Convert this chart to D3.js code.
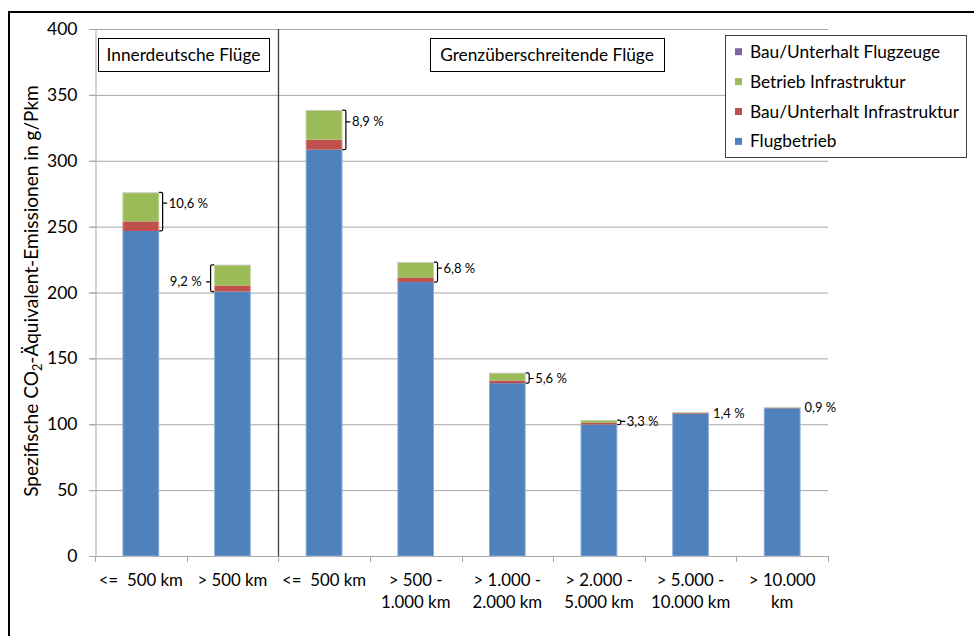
<!DOCTYPE html>
<html>
<head>
<meta charset="utf-8">
<script src="https://cdn.jsdelivr.net/npm/d3@7"></script>
<style>
  html, body { margin: 0; padding: 0; background: #fff; }
  svg { display: block; font-family: Lato, "Open Sans", sans-serif; }
</style>
</head>
<body>
<svg id="chart" width="974" height="636"></svg>
<script>
// ---- data ----
const categories = [
  ["<=  500 km"],
  ["> 500 km"],
  ["<=  500 km"],
  ["> 500 -", "1.000 km"],
  ["> 1.000 -", "2.000 km"],
  ["> 2.000 -", "5.000 km"],
  ["> 5.000 -", "10.000 km"],
  ["> 10.000", "km"]
];
const flugbetrieb        = [246.7, 200.7, 308.4, 207.9, 131.2, 99.8, 107.8, 112.1];
const bauInfrastruktur   = [7.3, 4.6, 7.6, 3.5, 2.0, 1.2, 0.6, 0.4];
const betriebInfra       = [21.8, 15.5, 22.3, 11.5, 5.6, 2.0, 0.7, 0.4];
const bauFlugzeuge       = [0.2, 0.2, 0.2, 0.2, 0.2, 0.2, 0.2, 0.2];
const shareLabels = ["10,6 %", "9,2 %", "8,9 %", "6,8 %", "5,6 %", "3,3 %", "1,4 %", "0,9 %"];
const yTicks = [0, 50, 100, 150, 200, 250, 300, 350, 400];
const seriesNames  = ["Flugbetrieb", "Bau/Unterhalt Infrastruktur", "Betrieb Infrastruktur", "Bau/Unterhalt Flugzeuge"];
const seriesColors = ["#4f81bd", "#c0504d", "#9bbb59", "#8064a2"];
const groupLabels = ["Innerdeutsche Flüge", "Grenzüberschreitende Flüge"];

// ---- annotation styling (side of bracket, where along the bracket the label sits) ----
const labelSide   = ["right", "left", "right", "right", "right", "right", "right", "right"];
const tickFrac    = [0.28, 0.64, 0.3, 0.3, 0.55, 0.3, 0.5, 0.5];

// ---- layout ----
const svg = d3.select("#chart");
const plot = { left: 95, right: 828, top: 29, bottom: 556 };

const x = d3.scaleBand()
  .domain(d3.range(categories.length))
  .range([plot.left, plot.right])
  .paddingInner(0.6)
  .paddingOuter(0.3);
const xStep = d3.scaleBand().domain(d3.range(categories.length)).range([plot.left, plot.right]);
const y = d3.scaleLinear().domain([0, 400]).range([plot.bottom, plot.top]);

// outer border (top + left visible)
svg.append("path")
  .attr("d", `M9,636 L9,12 L974,12`)
  .attr("fill", "none").attr("stroke", "#000").attr("stroke-width", 2);

// gridlines
svg.append("g").selectAll("line").data(yTicks.filter(d => d > 0)).join("line")
  .attr("x1", plot.left - 6).attr("x2", plot.right)
  .attr("y1", d => y(d) + 0.5).attr("y2", d => y(d) + 0.5)
  .attr("stroke", "#a6a6a6").attr("stroke-width", 1);

// y axis
const yAxis = svg.append("g").attr("transform", `translate(${plot.left + 0.5},0)`)
  .call(d3.axisLeft(y).tickValues(yTicks).tickSize(6).tickPadding(12));
yAxis.select(".domain").attr("stroke", "#a6a6a6");
yAxis.selectAll(".tick line").attr("stroke", "#a6a6a6");
yAxis.selectAll(".tick text").attr("font-size", 17.5).attr("fill", "#000").attr("font-family", "Lato");

// x axis
const xAxis = svg.append("g").attr("transform", `translate(0,${plot.bottom + 0.5})`)
  .call(d3.axisBottom(xStep).tickSize(0).tickFormat(""));
xAxis.select(".domain").attr("stroke", "#a6a6a6").attr("d", `M${plot.left},0H${plot.right}`);
svg.append("g").selectAll("line")
  .data(d3.range(categories.length + 1)).join("line")
  .attr("x1", i => Math.round(plot.left + i * xStep.step()) + 0.5)
  .attr("x2", i => Math.round(plot.left + i * xStep.step()) + 0.5)
  .attr("y1", plot.bottom).attr("y2", plot.bottom + 6)
  .attr("stroke", "#a6a6a6");

// x labels
const xl = svg.append("g");
categories.forEach((lines, i) => {
  const t = xl.append("text")
    .attr("x", x(i) + x.bandwidth() / 2)
    .attr("y", 585.5)
    .attr("text-anchor", "middle")
    .attr("font-size", 16.8)
    .style("white-space", "pre");
  lines.forEach((ln, k) => {
    t.append("tspan").attr("x", x(i) + x.bandwidth() / 2).attr("dy", k === 0 ? 0 : 22.5).text(ln);
  });
});

// stacked bars
const stackRows = categories.map((c, i) => ({
  i, s0: flugbetrieb[i], s1: bauInfrastruktur[i], s2: betriebInfra[i], s3: bauFlugzeuge[i]
}));
const stack = d3.stack().keys(["s0", "s1", "s2", "s3"])(stackRows);
svg.append("g").selectAll("g").data(stack).join("g")
  .attr("fill", (d, k) => seriesColors[k])
  .selectAll("rect").data(d => d).join("rect")
  .attr("x", d => x(d.data.i))
  .attr("width", x.bandwidth())
  .attr("y", d => y(d[1]))
  .attr("height", d => Math.max(0, y(d[0]) - y(d[1])));
// faint light edge on bars
svg.append("g").selectAll("rect").data(stackRows).join("rect")
  .attr("x", d => x(d.i) + 0.5).attr("width", x.bandwidth() - 1)
  .attr("y", d => y(d.s0 + d.s1 + d.s2 + d.s3) + 0.5)
  .attr("height", d => y(0) - y(d.s0 + d.s1 + d.s2 + d.s3) - 0.5)
  .attr("fill", "none").attr("stroke", "#ffffff").attr("stroke-opacity", 0.35);

// group separator
svg.append("line")
  .attr("x1", Math.round(xStep(2)) + 0.5).attr("x2", Math.round(xStep(2)) + 0.5)
  .attr("y1", plot.top).attr("y2", plot.bottom)
  .attr("stroke", "#404040").attr("stroke-width", 1.3);

// group label boxes
const groupBoxes = [
  { x0: 98, x1: 269 },
  { x0: 430, x1: 664 }
];
groupLabels.forEach((g, k) => {
  const b = groupBoxes[k];
  svg.append("rect").attr("x", b.x0 + 0.5).attr("y", 38.5).attr("width", b.x1 - b.x0).attr("height", 33)
    .attr("fill", "#fff").attr("stroke", "#000").attr("stroke-width", 1);
  svg.append("text").attr("x", (b.x0 + b.x1) / 2).attr("y", 61)
    .attr("text-anchor", "middle").attr("font-size", 17.3).text(g);
});

// brackets + share labels
const ann = svg.append("g");
stackRows.forEach(d => {
  const total = d.s0 + d.s1 + d.s2 + d.s3;
  const yTop = y(total), yBot = y(d.s0);
  const mid = yTop + (yBot - yTop) * tickFrac[d.i];
  const right = labelSide[d.i] === "right";
  const edge = right ? x(d.i) + x.bandwidth() : x(d.i);
  const dir = right ? 1 : -1;
  const vx = edge + dir * 3.5;
  if (yBot - yTop > 3) {
    const r = 1.5;
    ann.append("path")
      .attr("d", `M${edge},${yTop} H${vx - dir * r} Q${vx},${yTop} ${vx},${yTop + r} V${yBot - r} Q${vx},${yBot} ${vx - dir * r},${yBot} H${edge} M${vx},${mid} h${dir * 4.5}`)
      .attr("fill", "none").attr("stroke", "#000").attr("stroke-width", 1.2);
  }
  const tx = right ? vx + 6 : vx - 9;
  ann.append("text")
    .attr("x", right ? (yBot - yTop > 3 ? tx : edge + 4) : tx)
    .attr("y", mid)
    .attr("dy", "0.35em")
    .attr("text-anchor", right ? "start" : "end")
    .attr("font-size", 13)
    .text(shareLabels[d.i]);
});

// legend
const lg = svg.append("g");
lg.append("rect").attr("x", 725.5).attr("y", 35.5).attr("width", 241).attr("height", 122)
  .attr("fill", "#fff").attr("stroke", "#404040").attr("stroke-width", 1);
const legendOrder = [3, 2, 1, 0];
legendOrder.forEach((k, j) => {
  const cy = 51.7 + j * 29.9;
  lg.append("rect").attr("x", 735).attr("y", cy - 3.5).attr("width", 7).attr("height", 7).attr("fill", seriesColors[k]);
  lg.append("text").attr("x", 750).attr("y", cy).attr("dy", "0.35em").attr("font-size", 17.3).text(seriesNames[k]);
});

// y title (fitted to the reference's length of ~412px)
const yt = svg.append("text")
  .attr("transform", `translate(38,291) rotate(-90)`)
  .attr("text-anchor", "middle").attr("font-size", 18);
yt.append("tspan").text("Spezifische CO");
yt.append("tspan").attr("font-size", 12).attr("dy", 4).text("2");
yt.append("tspan").attr("dy", -4).text("-Äquivalent-Emissionen in g/Pkm");
const len = yt.node().getComputedTextLength();
if (len > 0) {
  const f = 412 / len;
  yt.attr("font-size", 18 * f);
  yt.selectAll("tspan").filter((d, i) => i === 1).attr("font-size", 12 * f);
}
</script>
</body>
</html>
